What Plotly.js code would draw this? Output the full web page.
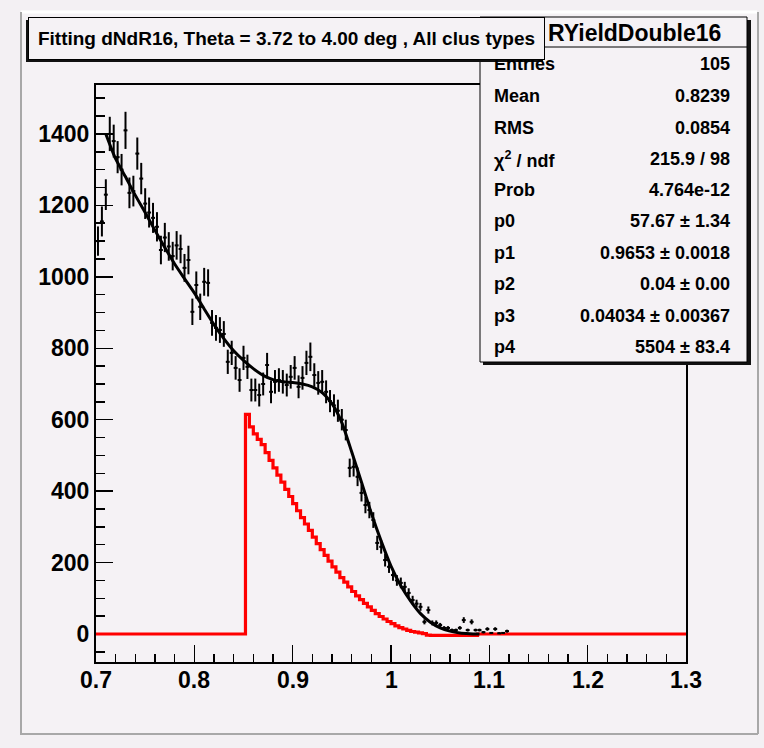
<!DOCTYPE html>
<html><head><meta charset="utf-8">
<script src="https://cdn.plot.ly/plotly-3.0.1.min.js"></script>
<style>html,body{margin:0;padding:0;background:#f3f0f3;} #chart{width:764px;height:748px;}</style>
</head><body><div id="chart"></div>
<script>
// ---- data ----
const binLow = 0.7;
const binWidth = 0.004;
const dataCounts = [
  1100, 1155, 1230, 1400, 1380, 1335, 1300, 1410, 1235, 1240,
  1345, 1275, 1205, 1180, 1165, 1140, 1075, 1110, 1085, 1058,
  1088, 1078, 1025, 1047, 902, 977, 916, 986, 983, 871,
  857, 851, 840, 762, 787, 745, 711, 773, 748, 683,
  683, 669, 700, 753, 678, 706, 711, 706, 697, 720,
  745, 692, 717, 759, 776, 725, 703, 706, 678, 652,
  640, 625, 600, 571, 465, 468, 440, 395, 361, 347,
  319, 255, 244, 207, 188, 165, 150, 143, 132, 115,
  95, 85, 76, 34, 67, 31, 31, 25, 17, 17,
  11, 11, 17, 39, 11, 34, 11, 11, 5, 14,
  3, 14, 2, 3, 8
];
const dataErrors = [
  41, 42, 43, 48, 46, 45, 44, 52, 43, 43,
  45, 44, 43, 42, 42, 41, 40, 41, 40, 40,
  40, 40, 39, 40, 37, 38, 37, 39, 38, 36,
  36, 36, 36, 34, 34, 33, 33, 34, 34, 32,
  32, 32, 32, 34, 32, 33, 33, 33, 32, 33,
  33, 32, 33, 34, 40, 33, 33, 33, 32, 31,
  31, 31, 30, 29, 26, 27, 26, 24, 23, 23,
  22, 20, 19, 18, 17, 16, 15, 15, 14, 13,
  12, 11, 11, 7, 10, 7, 7, 6, 5, 5,
  4, 4, 5, 8, 4, 7, 4, 4, 3, 5,
  2, 5, 2, 2, 4
];
const fitX = [0.71,0.72,0.73,0.74,0.75,0.76,0.77,0.78,0.79,0.80,0.81,0.82,0.83,0.84,0.85,0.86,0.87,0.88,0.89,0.90,
  0.91,0.92,0.93,0.94,0.95,0.96,0.97,0.98,0.99,1.00,1.01,1.02,1.03,1.04,1.05,1.06,1.07,1.08,1.09];
const fitY = [1400,1330,1280,1228,1180,1130,1082,1036,995,955,910,866,827,793,766,743,724,712,706,704,
  700,692,676,645,592,510,425,338,260,190,135,92,57,33,17,8,3,1,0];
const redStart = 0.852;
const redCounts = [
  615, 580, 560, 545, 530, 508, 486, 465, 445, 425,
  405, 385, 365, 345, 326, 308, 290, 271, 253, 236,
  220, 204, 188, 173, 158, 145, 132, 119, 107, 96,
  86, 76, 66, 57, 49, 42, 35, 29, 23, 18,
  14, 10, 7, 5, 3, 1, -3, -4, -4, -4,
  -4, -4, -4, -4, -4, -4, -4, -4, -4, 0
];
const xRange = [0.7, 1.3];
const yRange = [-78.4, 1537];
const xTickVals = [0.7, 0.8, 0.9, 1.0, 1.1, 1.2, 1.3];
const xTickText = ['0.7', '0.8', '0.9', '1', '1.1', '1.2', '1.3'];
const titleText = 'Fitting dNdR16, Theta = 3.72 to 4.00 deg , All clus types';
const statsName = 'RYieldDouble16';
const statsLabels = ['Entries','Mean','RMS','\u03c7<sup>2</sup> / ndf','Prob','p0','p1','p2','p3','p4'];
const statsValues = ['105','0.8239','0.0854','215.9 / 98','4.764e-12','57.67 \u00b1 1.34','0.9653 \u00b1 0.0018','0.04 \u00b1 0.00','0.04034 \u00b1 0.00367','5504 \u00b1 83.4'];

// ---- geometry helpers (pixel -> paper) ----
const W = 764, H = 748, L = 96, R = 686, T = 85, B = 662;
const fx = px => (px - L) / (R - L);
const fy = py => (B - py) / (B - T);
const padCol = '#f5f2f5';
const FONT = 'Liberation Sans, Arial, sans-serif';

// ---- traces ----
const dataX = dataCounts.map((_, i) => binLow + binWidth * (i + 0.5));
const redX = [binLow].concat(redCounts.map((_, i) => redStart + binWidth * i)).concat([xRange[1]]);
const redY = [0].concat(redCounts).concat([0]);

const traces = [
  {x: redX, y: redY, type: 'scatter', mode: 'lines', line: {color: '#ff0000', width: 3.2, shape: 'hv'}, hoverinfo: 'skip', cliponaxis: false},
  {x: dataX, y: dataCounts, type: 'scatter', mode: 'markers', marker: {size: 2, color: 'black'},
   error_y: {type: 'data', array: dataErrors, visible: true, color: 'black', thickness: 2, width: 0},
   error_x: {type: 'constant', value: binWidth / 2, visible: true, color: 'black', thickness: 2, width: 0}},
  {x: fitX, y: fitY, type: 'scatter', mode: 'lines', line: {color: 'black', width: 3, shape: 'spline', smoothing: 0.6}}
];

// ---- shapes ----
const rect = (x0, y0, x1, y1, fill, lc, lw, layer) => ({type: 'rect', xref: 'paper', yref: 'paper',
  x0: fx(x0), x1: fx(x1), y0: fy(y0), y1: fy(y1), fillcolor: fill, line: {color: lc || fill, width: lw || 0}, layer: layer || 'above'});
const line = (x0, y0, x1, y1, col, w, layer) => ({type: 'line', xref: 'paper', yref: 'paper',
  x0: fx(x0), x1: fx(x1), y0: fy(y0), y1: fy(y1), line: {color: col, width: w}, layer: layer || 'above'});

const shapes = [
  rect(21, 13, 757, 733, padCol, padCol, 0, 'below'),
  line(21, 12, 757, 12, '#ffffff', 3, 'below'),
  line(21, 12, 21, 734, '#a8a8a8', 2, 'below'),
  line(20, 734, 758, 734, '#a8a8a8', 2, 'below'),
  line(758, 12, 758, 734, '#a8a8a8', 2, 'below'),
  // stats box
  rect(483, 20, 751, 365, '#111111'),
  rect(480, 17, 747, 362, padCol, '#000000', 1),
  line(480, 47, 747, 47, '#000000', 1),
  // title pave shadow
  rect(26, 20, 543, 62, '#111111')
];

// ---- annotations ----
const annotations = [];
// x tick labels (placed on the library's x scale)
xTickVals.forEach((v, i) => {
  annotations.push({xref: 'x', yref: 'paper', x: v, y: fy(680), xanchor: 'center', yanchor: 'middle',
    text: xTickText[i], showarrow: false, font: {family: FONT, size: 23, color: 'black', weight: 'bold'}});
});
const rowY = [64, 96, 128, 159, 190, 221, 253, 284, 316, 347];
statsLabels.forEach((t, i) => {
  annotations.push({xref: 'paper', yref: 'paper', x: fx(492), y: fy(rowY[i]), xanchor: 'left', yanchor: 'middle',
    text: t, showarrow: false, font: {family: FONT, size: 18, color: 'black', weight: 'bold'}});
  annotations.push({xref: 'paper', yref: 'paper', x: fx(732), y: fy(rowY[i]), xanchor: 'right', yanchor: 'middle',
    text: statsValues[i], showarrow: false, font: {family: FONT, size: 18, color: 'black', weight: 'bold'}});
});
annotations.push({xref: 'paper', yref: 'paper', x: fx(546), y: fy(33), xanchor: 'left', yanchor: 'middle',
  text: statsName, showarrow: false, font: {family: FONT, size: 23, color: 'black', weight: 'bold'}});
// title pave box
annotations.push({xref: 'paper', yref: 'paper', x: fx(286.5), y: fy(38.5), xanchor: 'center', yanchor: 'middle',
  text: titleText, showarrow: false, width: 515, height: 41, bgcolor: padCol, bordercolor: '#000000', borderwidth: 1, borderpad: 0,
  font: {family: FONT, size: 19, color: 'black', weight: 'bold'}});

const axisCommon = {
  showgrid: false, zeroline: false, showline: true, linecolor: 'black', linewidth: 2, mirror: true,
  ticks: 'inside', tickcolor: 'black', tickwidth: 1.5, ticklen: 17, layer: 'below traces',
  tickfont: {family: FONT, size: 23, color: 'black', weight: 'bold'}, fixedrange: true
};

const layout = {
  width: W, height: H,
  margin: {l: L, r: W - R, t: T, b: H - B, pad: 0},
  paper_bgcolor: '#f3f0f3', plot_bgcolor: padCol,
  showlegend: false,
  xaxis: Object.assign({}, axisCommon, {range: xRange, tickmode: 'array', tickvals: xTickVals, showticklabels: false,
    minor: {tickmode: 'linear', tick0: 0.7, dtick: 0.02, ticks: 'inside', ticklen: 8, tickwidth: 1.5, tickcolor: 'black', showgrid: false}}),
  yaxis: Object.assign({}, axisCommon, {range: yRange, tick0: 0, dtick: 200, ticklabelstandoff: 0,
    minor: {dtick: 50, ticks: 'inside', ticklen: 9, tickwidth: 1.5, tickcolor: 'black', showgrid: false}}),
  shapes: shapes,
  annotations: annotations
};

Plotly.newPlot('chart', traces, layout, {displayModeBar: false, staticPlot: true});
</script>
</body></html>
